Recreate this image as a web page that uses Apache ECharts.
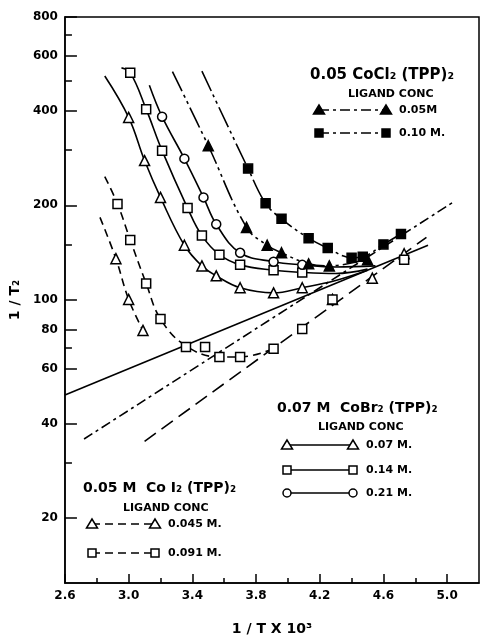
<!DOCTYPE html>
<html>
<head>
<meta charset="utf-8">
<script src="https://cdn.jsdelivr.net/npm/echarts@6/dist/echarts.min.js"></script>
<style>
html, body { margin: 0; padding: 0; background: #fff; }
#chart { width: 481px; height: 641px; }
</style>
</head>
<body>
<div id="chart"></div>
<script>
// axis ticks
const xLabels = [2.6, 3.0, 3.4, 3.8, 4.2, 4.6, 5.0]
const xMinorTicks = [2.8, 3.2, 3.6, 4.0, 4.4, 4.8]
const yLabels = [20, 40, 60, 80, 100, 200, 400, 600, 800]
const yMinorTicks = [30, 70, 150, 300, 500, 700]

// 0.07 M CoBr2(TPP)2 - measured points
const br07X = [3.00, 3.10, 3.20, 3.35, 3.46, 3.55, 3.70, 3.91, 4.09]
const br07Y = [382, 278, 212, 149, 128, 119, 109, 105, 109]
const br14X = [3.01, 3.11, 3.21, 3.37, 3.46, 3.57, 3.70, 3.91, 4.09]
const br14Y = [531, 406, 299, 196, 160, 139, 129, 124, 122]
const br21X = [3.21, 3.35, 3.47, 3.55, 3.70, 3.91, 4.09]
const br21Y = [384, 282, 212, 174, 141, 132, 129]
// CoBr2 fitted curves
const br07CurveX = [2.85, 3.00, 3.10, 3.20, 3.35, 3.46, 3.55, 3.70, 3.91, 4.09, 4.30, 4.50]
const br07CurveY = [518, 382, 278, 212, 149, 128, 119, 109, 105, 109, 115, 124]
const br14CurveX = [2.955, 3.01, 3.11, 3.21, 3.37, 3.46, 3.57, 3.70, 3.91, 4.09, 4.30, 4.50]
const br14CurveY = [550, 531, 406, 299, 196, 160, 139, 129, 124, 122, 121, 125]
const br21CurveX = [3.13, 3.21, 3.35, 3.47, 3.55, 3.70, 3.91, 4.09, 4.30, 4.55]
const br21CurveY = [484, 384, 282, 212, 174, 141, 132, 129, 127, 128]
const brLineX = [2.6, 4.88]
const brLineY = [49.5, 149]

// 0.05 CoCl2(TPP)2
const cl05X = [3.50, 3.74, 3.87, 3.96, 4.13, 4.26, 4.50]
const cl05Y = [310, 170, 149, 141, 130, 128, 134]
const cl10X = [3.75, 3.86, 3.96, 4.13, 4.25, 4.40, 4.47, 4.60, 4.71]
const cl10Y = [262, 203, 181, 157, 146, 136, 137, 150, 162]
const cl05CurveX = [3.275, 3.50, 3.74, 3.87, 3.96, 4.13, 4.26, 4.50]
const cl05CurveY = [535, 310, 170, 149, 141, 130, 128, 134.5]
const cl10CurveX = [3.46, 3.75, 3.86, 3.96, 4.13, 4.25, 4.40, 4.47, 4.60, 4.71]
const cl10CurveY = [537, 262, 203, 181, 157, 146, 136, 137, 150, 162]
const clLineX = [2.72, 5.04]
const clLineY = [35.8, 205]

// 0.05 M CoI2(TPP)2
const i045X = [2.92, 3.00, 3.09, 4.28, 4.53, 4.73]
const i045Y = [135, 100, 79.6, 100, 117, 140]
const i091X = [2.93, 3.01, 3.11, 3.20, 3.36, 3.48, 3.57, 3.70, 3.91, 4.09, 4.28, 4.73]
const i091Y = [202, 155, 112.5, 86.6, 70.5, 70.5, 65.5, 65.5, 69.6, 80.5, 100, 134]
const i045CurveX = [2.82, 2.92, 3.00, 3.09]
const i045CurveY = [183, 135, 100, 79.6]
const i091CurveX = [2.85, 2.93, 3.01, 3.11, 3.20, 3.36, 3.57, 3.70, 3.91]
const i091CurveY = [247, 202, 155, 112.5, 86.6, 71, 65.5, 65.5, 69.6]
const iLineX = [3.10, 4.87]
const iLineY = [35.2, 158]

const FONT = '"DejaVu Sans", sans-serif'
const DASH = [8, 5]
const LONG_DASH = [14, 7]
const DASH_DOT = [10, 4, 3, 4]
const CURVE_DOT = [22, 4, 3, 4, 3, 4]

const zip = (xs, ys) => xs.map((x, i) => [x, ys[i]])

const curve = (xs, ys, dash) => ({
    type: 'line',
    data: zip(xs, ys),
    smooth: 0.4,
    symbol: 'none',
    silent: true,
    z: 2,
    lineStyle: { color: '#000', width: 1.6, type: dash }
})

const marks = (xs, ys, symbol, size, filled) => ({
    type: 'scatter',
    data: zip(xs, ys),
    symbol: symbol,
    symbolSize: size,
    z: 5,
    itemStyle: { color: filled ? '#000' : '#fff', borderColor: '#000', borderWidth: 1.5, opacity: 1 }
})

// legend pieces (drawn as graphics)
const sym = (kind, cx, cy, filled) => {
    const style = { fill: filled ? '#000' : '#fff', stroke: '#000', lineWidth: 1.5 }
    if (kind === 'tri') return { type: 'polygon', shape: { points: [[cx, cy - 5], [cx - 5.5, cy + 4], [cx + 5.5, cy + 4]] }, style, z: 10 }
    if (kind === 'sq') return { type: 'rect', shape: { x: cx - 4, y: cy - 4, width: 8, height: 8 }, style, z: 10 }
    return { type: 'circle', shape: { cx, cy, r: 4 }, style, z: 10 }
}
const text = (x, y, str, size) => ({
    type: 'text', x, y, z: 10,
    style: { text: str, fill: '#000', font: `bold ${size}px ${FONT}`, textAlign: 'left', textVerticalAlign: 'middle' }
})
const legendRow = (x1, x2, y, kind, filled, dash, label) => [
    { type: 'line', shape: { x1, y1: y, x2, y2: y }, style: { stroke: '#000', lineWidth: 1.5, lineDash: dash }, z: 9 },
    sym(kind, x1, y, filled),
    sym(kind, x2, y, filled),
    text(x2 + 13, y, label, 11)
]

const chart = echarts.init(document.getElementById('chart'))

const option = {
    animation: false,
    backgroundColor: '#fff',
    grid: { left: 62, right: 2, top: 17, bottom: 53, show: true, borderColor: '#000', borderWidth: 1.5 },
    xAxis: [
        {
            type: 'value', min: 2.6, max: 5.2, position: 'bottom',
            name: '1 / T X 10³', nameLocation: 'middle', nameGap: 39,
            nameTextStyle: { color: '#000', fontFamily: FONT, fontWeight: 'bold', fontSize: 14 },
            axisLine: { lineStyle: { color: '#000', width: 1.5 } },
            axisTick: { inside: true, length: 9, customValues: xLabels, lineStyle: { color: '#000', width: 1.5 } },
            axisLabel: { customValues: xLabels, formatter: v => v.toFixed(1), color: '#000', fontFamily: FONT, fontWeight: 'bold', fontSize: 12, margin: 7 },
            splitLine: { show: false }
        },
        {
            type: 'value', min: 2.6, max: 5.2, position: 'bottom',
            axisLine: { show: false },
            axisTick: { inside: true, length: 5, customValues: xMinorTicks, lineStyle: { color: '#000', width: 1.5 } },
            axisLabel: { show: false },
            splitLine: { show: false }
        }
    ],
    yAxis: [
        {
            type: 'log', logBase: 10, min: 12.4, max: 800, position: 'left',
            name: '1 / T₂', nameLocation: 'middle', nameGap: 42, nameRotate: 90,
            nameTextStyle: { color: '#000', fontFamily: FONT, fontWeight: 'bold', fontSize: 14 },
            axisLine: { show: true, lineStyle: { color: '#000', width: 1.5 } },
            axisTick: { show: true, inside: true, length: 12, customValues: yLabels, lineStyle: { color: '#000', width: 1.5 } },
            axisLabel: { customValues: yLabels, color: '#000', fontFamily: FONT, fontWeight: 'bold', fontSize: 12, margin: 7 },
            splitLine: { show: false }
        },
        {
            type: 'log', logBase: 10, min: 12.4, max: 800, position: 'left',
            axisLine: { show: false },
            axisTick: { show: true, inside: true, length: 7, customValues: yMinorTicks, lineStyle: { color: '#000', width: 1.5 } },
            axisLabel: { show: false },
            splitLine: { show: false }
        }
    ],
    series: [
        // straight asymptotes
        curve(brLineX, brLineY, 'solid'),
        curve(clLineX, clLineY, DASH_DOT),
        curve(iLineX, iLineY, LONG_DASH),
        // CoBr2 curves
        curve(br07CurveX, br07CurveY, 'solid'),
        curve(br14CurveX, br14CurveY, 'solid'),
        curve(br21CurveX, br21CurveY, 'solid'),
        // CoCl2 curves
        curve(cl05CurveX, cl05CurveY, CURVE_DOT),
        curve(cl10CurveX, cl10CurveY, CURVE_DOT),
        // CoI2 curves
        curve(i045CurveX, i045CurveY, DASH),
        curve(i091CurveX, i091CurveY, DASH),
        // markers
        marks(br07X, br07Y, 'triangle', 10, false),
        marks(br14X, br14Y, 'rect', 9, false),
        marks(br21X, br21Y, 'circle', 9, false),
        marks(cl05X, cl05Y, 'triangle', 10, true),
        marks(cl10X, cl10Y, 'rect', 9, true),
        marks(i045X, i045Y, 'triangle', 10, false),
        marks(i091X, i091Y, 'rect', 9, false)
    ],
    graphic: [
        text(310, 75, '0.05 CoCl₂ (TPP)₂', 15),
        text(348, 94, 'LIGAND CONC', 11),
        ...legendRow(319, 386, 110, 'tri', true, DASH_DOT, '0.05M'),
        ...legendRow(319, 386, 133, 'sq', true, DASH_DOT, '0.10 M.'),

        text(277, 408, '0.07 M  CoBr₂ (TPP)₂', 14),
        text(318, 427, 'LIGAND CONC', 11),
        ...legendRow(287, 353, 445, 'tri', false, null, '0.07 M.'),
        ...legendRow(287, 353, 470, 'sq', false, null, '0.14 M.'),
        ...legendRow(287, 353, 493, 'circ', false, null, '0.21 M.'),

        text(83, 488, '0.05 M  Co I₂ (TPP)₂', 14),
        text(123, 508, 'LIGAND CONC', 11),
        ...legendRow(92, 155, 524, 'tri', false, DASH, '0.045 M.'),
        ...legendRow(92, 155, 553, 'sq', false, DASH, '0.091 M.')
    ]
}

chart.setOption(option)
</script>
</body>
</html>
